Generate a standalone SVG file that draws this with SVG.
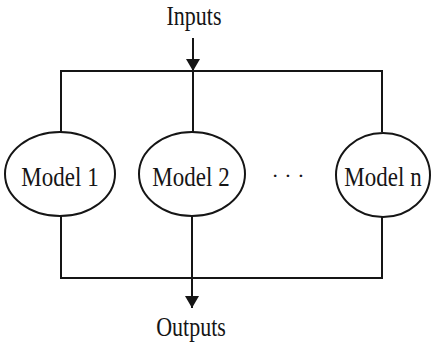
<svg xmlns="http://www.w3.org/2000/svg" width="432" height="342" viewBox="0 0 432 342">
  <style>
    .wire { fill: none; stroke: #151515; stroke-width: 2; }
    .node ellipse { fill: #ffffff; stroke: #151515; stroke-width: 2; }
    .label { font-family: "Liberation Serif", "Times New Roman", serif; font-size: 22px; fill: #151515; text-anchor: middle; }
    .node text { font-size: 23px; }
  </style>
  <defs>
    <marker id="arrow" viewBox="0 0 12 14" refX="12" refY="7" markerWidth="12" markerHeight="14" markerUnits="userSpaceOnUse" orient="auto">
      <path d="M0,0 L12,7 L0,14 Z" fill="#151515"/>
    </marker>
  </defs>
  <rect width="432" height="342" fill="#ffffff"/>

  <!-- external labels (type set slightly tall) -->
  <text class="label" transform="translate(194,25) scale(1,1.2)">Inputs</text>
  <text class="label" transform="translate(191,336) scale(1,1.2)">Outputs</text>

  <!-- connectors: input feed, top bus, drops to models, bottom bus, output -->
  <g id="connectors">
    <line class="wire" x1="193" y1="38" x2="193" y2="71" marker-end="url(#arrow)"/>
    <polyline class="wire" points="61,132 61,71 382,71 382,132"/>
    <line class="wire" x1="193" y1="71" x2="193" y2="132"/>
    <polyline class="wire" points="61,216 61,278 382,278 382,216"/>
    <line class="wire" x1="192" y1="216" x2="192" y2="278"/>
    <line class="wire" x1="192" y1="278" x2="192" y2="308" marker-end="url(#arrow)"/>
  </g>

  <g id="model1" class="node">
    <ellipse cx="60" cy="174" rx="55" ry="42"/>
    <text class="label" transform="translate(60,186) scale(1,1.18)">Model 1</text>
  </g>
  <g id="model2" class="node">
    <ellipse cx="192" cy="174" rx="53" ry="42"/>
    <text class="label" transform="translate(191,186) scale(1,1.18)">Model 2</text>
  </g>
  <g id="ellipsis">
    <text class="label" x="288" y="183">· · ·</text>
  </g>
  <g id="modeln" class="node">
    <ellipse cx="383" cy="175" rx="47" ry="42"/>
    <text class="label" transform="translate(383,186) scale(1,1.18)">Model n</text>
  </g>
</svg>
